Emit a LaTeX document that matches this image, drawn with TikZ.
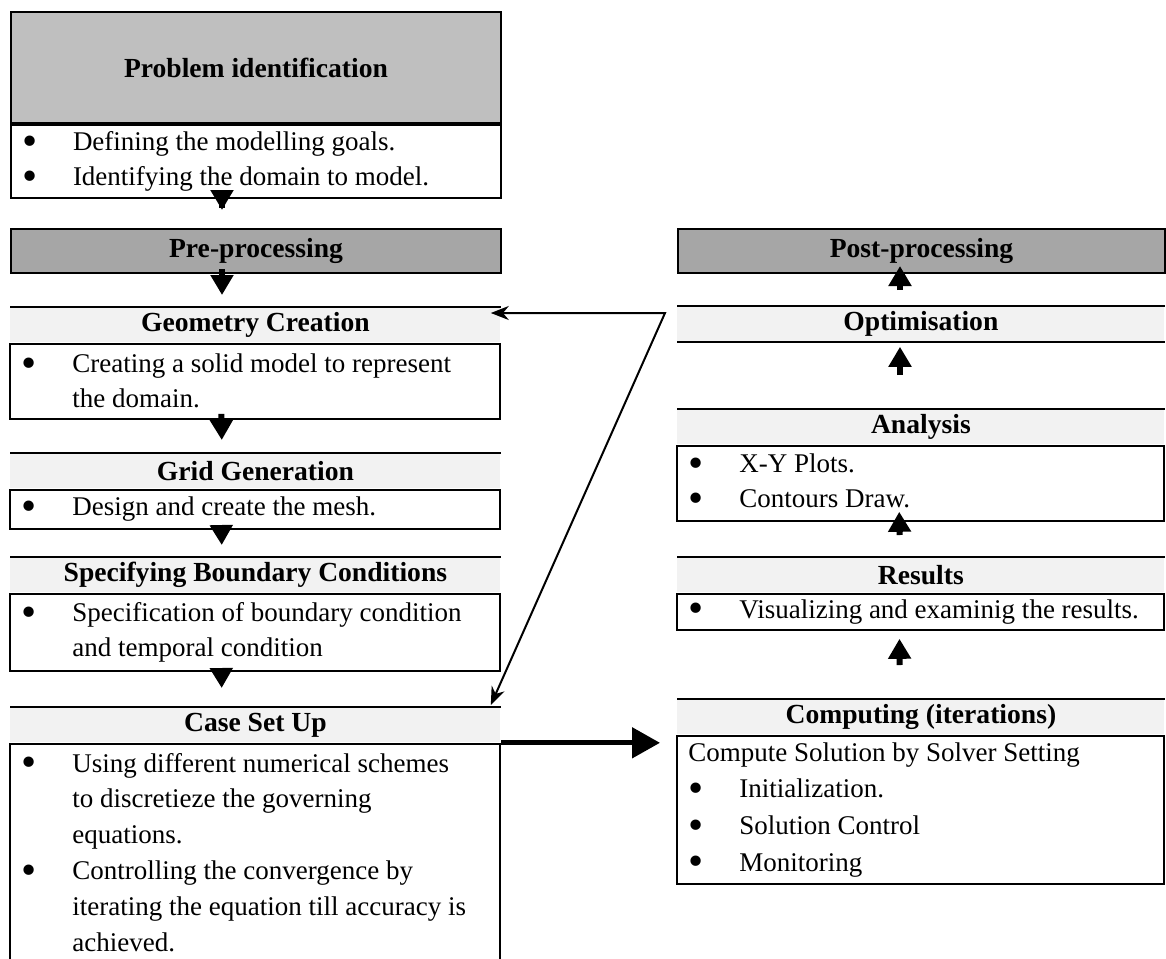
\documentclass[tikz,border=0pt]{standalone}
\usepackage{fontspec}
\setmainfont{Liberation Serif}
\usetikzlibrary{positioning,arrows.meta}

\definecolor{titlegray}{gray}{0.75}
\definecolor{phasegray}{gray}{0.65}

\newcommand{\itm}[1]{\makebox[25.5pt][l]{\raisebox{-2.3pt}{\scalebox{1.6}{\textbullet}}}#1}
\newcommand{\cont}[1]{\hspace*{25.5pt}#1}

\tikzset{
  boxfont/.style={font=\fontsize{13.5}{17.5}\selectfont},
  titlebox/.style={draw, line width=1pt, minimum width=245pt, inner sep=0pt,
    anchor=north west, font=\fontsize{13.8}{17.5}\selectfont\bfseries},
  band/.style={fill=black!5, minimum width=245pt, minimum height=17.5pt,
    inner sep=0pt, anchor=north west, font=\fontsize{13.8}{17.5}\selectfont\bfseries},
  bodybox/.style={draw, line width=1pt, text width=234pt, inner xsep=5.5pt,
    inner ysep=0pt, align=flush left, boxfont},
  flow/.style={line width=3pt, -{Triangle[width=11pt,length=10pt]}},
  bigflow/.style={line width=2.5pt, -{Triangle[width=15pt,length=14pt]}},
  feedback/.style={line width=1pt, {Stealth[length=9pt,width=7pt]}-{Stealth[length=9pt,width=7pt]}}
}

\begin{document}
\begin{tikzpicture}[x=0.5pt,y=-0.5pt]
\useasboundingbox (0,0) rectangle (1166,958);

% left column
\node[titlebox, fill=titlegray, minimum height=55.5pt] (prob) at (10,11) {Problem identification};
\node[bodybox, minimum height=36.5pt, below=0pt of prob] (probbody)
  {\itm{Defining the modelling goals.}\\ \itm{Identifying the domain to model.}};

\node[titlebox, fill=phasegray, minimum height=22pt] (pre) at (10,228) {Pre-processing};

\node[band] (geoh) at (10,307) {Geometry Creation};
\node[bodybox, minimum height=37.5pt, below=0pt of geoh] (geobody)
  {\itm{Creating a solid model to represent}\\ \cont{the domain.}};

\node[band] (gridh) at (10,453) {Grid Generation};
\node[bodybox, minimum height=19.5pt, below=0pt of gridh] (gridbody)
  {\itm{Design and create the mesh.}};

\node[band] (bch) at (10,557) {Specifying Boundary Conditions};
\node[bodybox, minimum height=38.5pt, below=0pt of bch] (bcbody)
  {\itm{Specification of boundary condition}\\ \cont{and temporal condition}};

\node[band] (caseh) at (10,707) {Case Set Up};
\node[bodybox, minimum height=108.5pt, below=0pt of caseh, font=\fontsize{13.5}{17.9}\selectfont] (casebody)
  {\itm{Using different numerical schemes}\\ \cont{to discretieze the governing}\\ \cont{equations.}\\
   \itm{Controlling the convergence by}\\ \cont{iterating the equation till accuracy is}\\ \cont{achieved.}};

% right column
\node[titlebox, fill=phasegray, minimum height=22pt, minimum width=243.5pt] (post) at (677,228) {Post-processing};

\node[band, minimum width=243.5pt] (opth) at (677,306) {Optimisation};

\node[band, minimum width=243.5pt] (anah) at (677,409) {Analysis};
\node[bodybox, minimum height=37.5pt, text width=232.5pt, below=0pt of anah] (anabody)
  {\itm{X-Y Plots.}\\ \itm{Contours Draw.}};

\node[band, minimum width=243.5pt] (resh) at (677,557) {Results};
\node[bodybox, minimum height=18pt, text width=232.5pt, below=0pt of resh] (resbody)
  {\itm{Visualizing and examinig the results.}};

\node[band, minimum width=243.5pt] (comph) at (677,699) {Computing (iterations)};
\node[bodybox, minimum height=74pt, text width=232.5pt, below=0pt of comph, font=\fontsize{13.5}{18.3}\selectfont] (compbody)
  {Compute Solution by Solver Setting\\ \itm{Initialization.}\\ \itm{Solution Control}\\ \itm{Monitoring}};

% band rules
\foreach \n in {geoh,gridh,bch,caseh,opth,anah,resh,comph}
  \draw[line width=1pt] (\n.north west) -- (\n.north east);
\draw[line width=1pt] (opth.south west) -- (opth.south east);

% down arrows
\draw[flow, shorten <=-4.5pt, shorten >=9pt] ([xshift=106pt]probbody.south west) -- ([xshift=106pt]pre.north west);
\draw[flow, shorten <=-2.5pt, shorten >=6pt] ([xshift=106pt]pre.south west) -- ([xshift=106pt]geoh.north west);
\draw[flow, shorten <=-3pt, shorten >=6.5pt] ([xshift=106pt]geobody.south west) -- ([xshift=106pt]gridh.north west);
\draw[flow, shorten <=-4pt, shorten >=6pt] ([xshift=106pt]gridbody.south west) -- ([xshift=106pt]bch.north west);
\draw[flow, shorten <=-4pt, shorten >=9.5pt] ([xshift=106pt]bcbody.south west) -- ([xshift=106pt]caseh.north west);

% up arrows
\draw[flow, shorten <=8pt, shorten >=-4pt] ([xshift=111.5pt]opth.north west) -- ([xshift=111.5pt]post.south west);
\draw[flow, shorten <=17pt, shorten >=2.5pt] ([xshift=111.5pt]anah.north west) -- ([xshift=111.5pt]opth.south west);
\draw[flow, shorten <=11pt, shorten >=-5pt] ([xshift=111.5pt]resh.north west) -- ([xshift=111.5pt]anabody.south west);
\draw[flow, shorten <=17pt, shorten >=4pt] ([xshift=111.5pt]comph.north west) -- ([xshift=111.5pt]resbody.south west);

% case set up to computing
\draw[bigflow, shorten >=8.5pt] (casebody.north east) -- (casebody.north east -| comph.west);

% loop back to geometry
\coordinate (fbturn) at (665,313);
\draw[feedback] ([xshift=-5pt,yshift=-3pt]geoh.north east) -- (fbturn) -- ([xshift=-5pt,yshift=1pt]caseh.north east);
\end{tikzpicture}
\end{document}
